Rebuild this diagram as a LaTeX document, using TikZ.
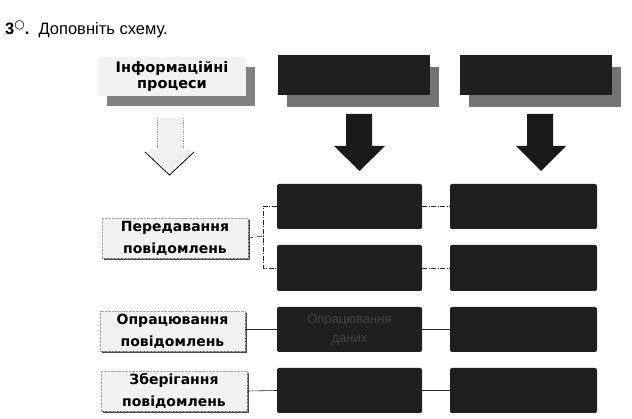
\documentclass[tikz,border=0pt]{standalone}
\usepackage{fontspec}
\setmainfont{Liberation Sans}
\newfontfamily\symfont{DejaVu Sans}
\newfontfamily\labfont{DejaVu Sans}
\usetikzlibrary{shadows,calc}
\begin{document}
\begin{tikzpicture}[x=1pt,y=-1pt,
  blk/.style={fill=black!88, rounded corners=2pt, inner sep=0pt, minimum height=45pt},
  hdrblk/.style={fill=black!88, inner sep=0pt, minimum width=152pt, minimum height=40pt,
     drop shadow={shadow xshift=9pt, shadow yshift=-12pt, fill=black!55, opacity=1}},
  hdrlab/.style={fill=gray!10, inner sep=0pt, minimum width=148pt, minimum height=39pt,
     align=center, font=\labfont\bfseries\fontsize{14.5}{15.5}\selectfont,
     drop shadow={shadow xshift=9pt, shadow yshift=-10pt, fill=black!50, opacity=1}},
  lab/.style={fill=gray!10, draw=gray!70, densely dotted, inner sep=0pt,
     minimum width=146pt, minimum height=40pt, align=center,
     font=\labfont\bfseries\fontsize{14}{22}\selectfont,
     drop shadow={shadow xshift=2pt, shadow yshift=-2.5pt, fill=black!70, opacity=1}},
  conn/.style={draw=black!85, line width=0.6pt},
  dconn/.style={conn, dash pattern=on 5pt off 1.5pt on 1pt off 1.5pt},
  bigarrow/.style={fill=black!90}
]
\useasboundingbox (0,0) rectangle (632,419);

% title
\node[anchor=base west, inner sep=0pt, font=\fontsize{16.5}{18}\selectfont] (title) at (5,35)
  {\textbf{3}\raisebox{6pt}{\symfont\fontsize{12}{12}\selectfont ○}\textbf{.}\ \ Доповніть схему.};

% headers
\node[hdrlab] (h1) at (172,76.5) {Інформаційні\\процеси};
\node[hdrblk] (h2) at (354,75) {};
\node[hdrblk] (h3) at (536,75) {};

% arrows
\fill[gray!12] (157,118) -- (183,118) -- (183,150) -- (192,150) -- (169.5,173) -- (147,150) -- (157,150) -- cycle;
\draw[densely dotted, gray!80, line width=0.8pt] (157,118) -- (157,148);
\draw[densely dotted, gray!80, line width=0.8pt] (183,118) -- (183,148);
\draw[black, line width=0.8pt] (145,152) -- (169.5,175) -- (194,152);

\fill[bigarrow] (346,114) -- (372,114) -- (372,146) -- (385,146) -- (359.5,171) -- (334,146) -- (346,146) -- cycle;
\fill[bigarrow] (527,114) -- (553,114) -- (553,146) -- (566,146) -- (541,171) -- (516,146) -- (527,146) -- cycle;

% grid boxes
\node[blk, minimum width=145pt] (a1) at (349.5,206.5) {};
\node[blk, minimum width=145pt, minimum height=46pt] (a2) at (349.5,268) {};
\node[blk, minimum width=145pt, font=\fontsize{13}{19}\selectfont, text=black!74, align=center] (a3) at (349.5,329.5) {Опрацювання\\даних};
\node[blk, minimum width=145pt] (a4) at (349.5,390.5) {};
\node[blk, minimum width=147pt] (b1) at (523.5,206.5) {};
\node[blk, minimum width=147pt, minimum height=46pt] (b2) at (523.5,268) {};
\node[blk, minimum width=147pt] (b3) at (523.5,329.5) {};
\node[blk, minimum width=147pt] (b4) at (523.5,390.5) {};

% labels
\node[lab] (l1) at (175,238) {Передавання\\повідомлень};
\node[lab, minimum width=145pt] (l2) at (172.5,331) {Опрацювання\\повідомлень};
\node[lab] (l3) at (174,391) {Зберігання\\повідомлень};

% connectors
\coordinate (brk) at (263,236);
\draw[dconn] (l1.east) -- (brk);
\draw[dconn] (a1.west) -| (brk) |- (a2.west);
\draw[dconn] (a1.east) -- (b1.west);
\draw[dconn] (a2.east) -- (b2.west);
\draw[conn] (a3.west -| l2.east) -- (a3.west);
\draw[conn] (a3.east) -- (b3.west);
\draw[conn] (l3.east) -- (a4.west);
\draw[conn] (a4.east) -- (b4.west);
\end{tikzpicture}
\end{document}
